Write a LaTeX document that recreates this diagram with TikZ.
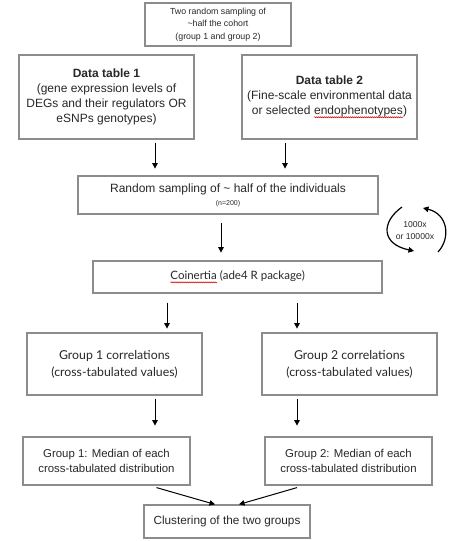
\documentclass[tikz,border=0pt]{standalone}
\usepackage{fontspec}
\setmainfont{Liberation Sans}
\newfontfamily\avn{Lato}
\usetikzlibrary{arrows.meta,decorations.pathmorphing}
\newcommand\redwave[1]{\tikz[baseline=(wavyword.base)]{\node[draw=none, minimum width=0pt, minimum height=0pt, inner sep=0pt, outer sep=0pt](wavyword){#1};\draw[red!85!black, line width=0.5pt, decorate, decoration={snake,amplitude=0.6pt,segment length=2pt}] ([yshift=-2.6pt]wavyword.base west) -- ([yshift=-2.6pt]wavyword.base east);}}
\definecolor{boxgray}{RGB}{140,140,140}
\definecolor{txt}{RGB}{40,40,40}
\tikzset{
  box/.style={draw=boxgray, line width=1.2pt, align=center, inner sep=2pt, text=txt},
  arr/.style={-{Triangle[length=5.5pt,width=5.5pt]}, line width=1pt, black},
  cyc/.style={-{Triangle[length=5.5pt,width=5.5pt]}, line width=1.2pt, black},
}
\begin{document}
\begin{tikzpicture}[x=1pt,y=-1pt]
\useasboundingbox[fill=white] (0,0) rectangle (448,541);
\node[box, minimum width=146pt, minimum height=43pt, font=\fontsize{8.8}{12.5}\selectfont] (top) at (218,24.5)
  {Two random sampling of\\\textasciitilde half the cohort\\(group 1 and group 2)};
\node[box, minimum width=175pt, minimum height=84pt, font=\fontsize{12}{15}\selectfont] (dt1) at (106.5,97)
  {\textbf{Data table 1}\\(gene expression levels of\\DEGs and their regulators OR\\eSNPs genotypes)};
\node[box, minimum width=175pt, minimum height=84pt, font=\fontsize{12}{15}\selectfont] (dt2) at (329.5,97)
  {\textbf{Data table 2}\\(Fine-scale environmental data\\or selected \redwave{endophenotypes})};
\node[box, minimum width=300pt, minimum height=38pt, font=\fontsize{12}{17}\selectfont] (rand) at (228,195)
  {Random sampling of \textasciitilde{} half of the individuals\\[-4pt]{\fontsize{7}{8}\selectfont (n=200)}};
\node[box, minimum width=289pt, minimum height=32pt, font=\avn\fontsize{11.5}{14}\selectfont] (coin) at (237.5,277)
  {\redwave{Coinertia} (ade4 R package)};
\node[box, minimum width=175pt, minimum height=62pt, font=\avn\fontsize{12.3}{17}\selectfont] (g1) at (114.5,364)
  {Group 1 correlations\\(cross-tabulated values)};
\node[box, minimum width=175pt, minimum height=62pt, font=\avn\fontsize{12.3}{17}\selectfont] (g2) at (349.5,364)
  {Group 2 correlations\\(cross-tabulated values)};
\node[box, minimum width=167pt, minimum height=48pt, font=\fontsize{11.4}{15}\selectfont] (m1) at (106.5,461)
  {Group 1: Median of each\\cross-tabulated distribution};
\node[box, minimum width=167pt, minimum height=48pt, font=\fontsize{11.4}{15}\selectfont] (m2) at (348.5,461)
  {Group 2: Median of each\\cross-tabulated distribution};
\node[box, minimum width=166pt, minimum height=33pt, font=\fontsize{11.8}{14}\selectfont] (clu) at (227,521.5)
  {Clustering of the two groups};
% vertical arrows
\draw[arr] ([xshift=48.5pt,yshift=-3pt]dt1.south) -- ++(0,-26pt);
\draw[arr] ([xshift=-44.5pt,yshift=-3pt]dt2.south) -- ++(0,-26pt);
\draw[arr] ([xshift=-7pt,yshift=-8pt]rand.south) -- ++(0,-30pt);
\draw[arr] ([xshift=-70.5pt,yshift=-9pt]coin.south) -- ++(0,-26pt);
\draw[arr] ([xshift=59.5pt,yshift=-9pt]coin.south) -- ++(0,-26pt);
\draw[arr] ([xshift=40.5pt,yshift=-3pt]g1.south) -- ++(0,-27pt);
\draw[arr] ([xshift=-52.5pt,yshift=-3pt]g2.south) -- ++(0,-27pt);
% converging arrows
\draw[arr] ([xshift=50pt,yshift=-2pt]m1.south) -- ([xshift=-12pt]clu.north);
\draw[arr] ([xshift=-51.5pt,yshift=-2pt]m2.south) -- ([xshift=12pt]clu.north);
% cycle
\node[font=\fontsize{8.6}{11.5}\selectfont, text=txt, align=center] (cyc) at (415,230.5) {1000x\\or 10000x};
\coordinate (c1) at (402,207);
\coordinate (c2) at (414,251);
\coordinate (c3) at (438,252);
\coordinate (c4) at (423,208);
\draw[cyc] (c1) .. controls (381,222) and (381,244) .. (c2);
\draw[cyc] (c3) .. controls (451,238) and (448,214) .. (c4);
\end{tikzpicture}
\end{document}
